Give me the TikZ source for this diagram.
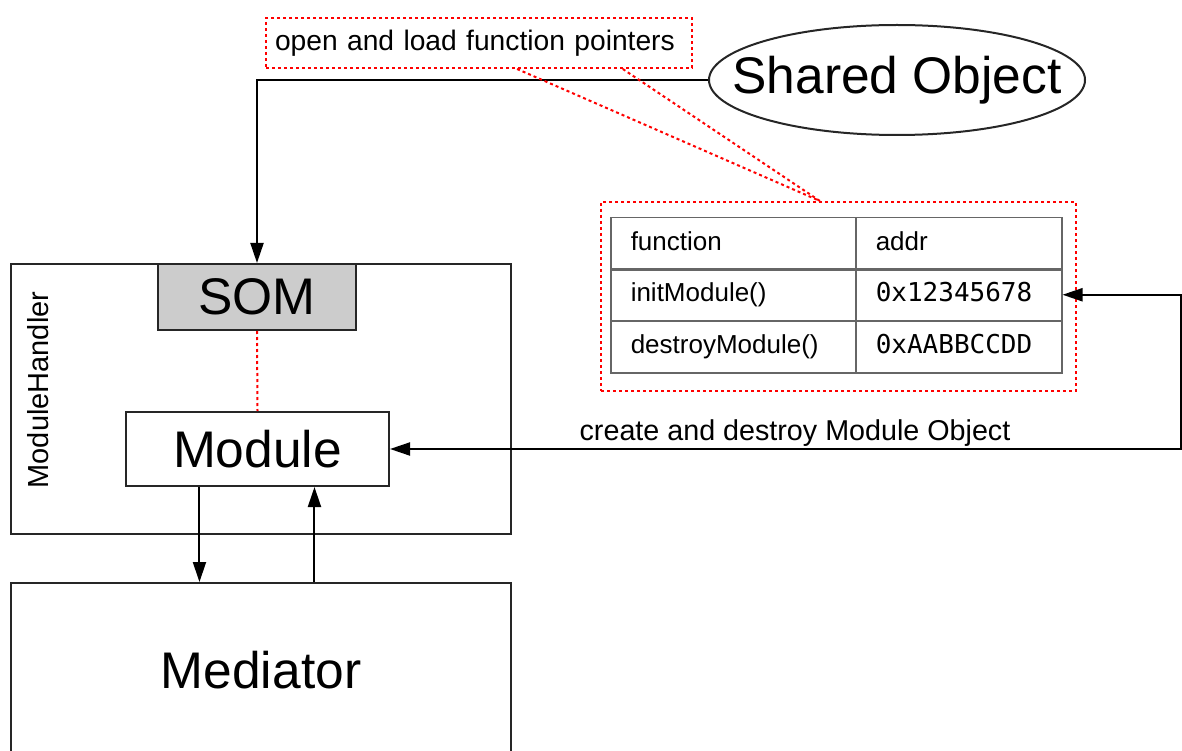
\documentclass[tikz,border=0pt]{standalone}
\usepackage{fontspec}
\setmainfont{Liberation Sans}
\newfontfamily\monofont{DejaVu Sans Mono}
\usetikzlibrary{arrows.meta,calc,shapes.geometric}

\tikzset{
  big/.style={font=\fontsize{51.5}{60}\selectfont},
  small/.style={font=\fontsize{28.7}{34}\selectfont},
  box/.style={draw=black!85, line width=2pt, inner sep=0pt},
  note/.style={draw=red, line width=2pt, dash pattern=on 3pt off 3pt},
  link/.style={red, line width=2pt, dash pattern=on 3pt off 3pt},
  arr/.style={draw=black, line width=2pt, -{Triangle[length=20pt,width=13pt]}},
  arrboth/.style={draw=black, line width=2pt, {Triangle[length=20pt,width=13pt]}-{Triangle[length=20pt,width=13pt]}},
  cell/.style={draw=black!60, line width=1.5pt, minimum height=52pt, inner xsep=20pt, inner ysep=0pt,
    text height=19pt, text depth=6pt, align=left, font=\fontsize{26}{30}\selectfont},
  fncell/.style={cell, text width=205pt},
  adcell/.style={cell, text width=166pt}
}

\begin{document}
\begin{tikzpicture}[x=1pt, y=-1pt]
\useasboundingbox (0,0) rectangle (1182,751);

% shared object and the loader note
\node[ellipse, box, minimum width=376pt, minimum height=110pt, big] (so) at (897,80) {\makebox[0pt]{Shared Object}};
\node[note, minimum height=50pt, inner ysep=0pt, inner xsep=9pt, text width=408pt, align=left,
  font=\fontsize{28.2}{34}\selectfont] (lbl) at (479,43) {open and load function pointers};

% module handler with SOM and Module
\node[box, minimum width=500pt, minimum height=270pt] (mh) at (261,399) {};
\node[font=\fontsize{29}{34}\selectfont, rotate=90] (mhlabel) at (38,390) {ModuleHandler};
\node[box, fill=black!20, minimum width=198pt, minimum height=66pt, big] (som) at (257,297) {SOM};
\node[box, fill=white, minimum width=263pt, minimum height=74pt, big] (mod) at (257.5,449) {Module};

% mediator (runs past the lower edge)
\node[box, minimum width=500pt, minimum height=174pt, big] (med) at (261,670) {Mediator};

% function pointer table
\node[note, minimum width=475pt, minimum height=189pt, inner sep=0pt] (tbl) at (838.5,296.5) {};
\node[fncell, anchor=north west] (f0) at (610,217) {function};
\node[adcell, anchor=north west] (a0) at (855,217) {addr};
\node[fncell, anchor=north west] (f1) at (610,268) {initModule()};
\node[adcell, anchor=north west] (a1) at (855,268) {\monofont 0x12345678};
\node[fncell, anchor=north west] (f2) at (610,320) {destroyModule()};
\node[adcell, anchor=north west] (a2) at (855,320) {\monofont 0xAABBCCDD};

% connectors
\draw[arr] (so.west) -| (som.north);
\draw[link] ($(lbl.south west)!0.589!(lbl.south east)$) -- ($(tbl.north west)!0.461!(tbl.north east)$);
\draw[link] ($(lbl.south west)!0.836!(lbl.south east)$) -- ($(tbl.north west)!0.461!(tbl.north east)$);
\draw[link] (som.south) -- (mod.north);

\coordinate (rt) at (1181,297);
\draw[arrboth] (a1.east) -- (a1.east -| rt) |- (mod.east);
\node[small, anchor=base] (cdlabel) at (795,440) {create and destroy Module Object};

\coordinate (down) at ($(mod.south west)!0.281!(mod.south east)$);
\coordinate (up) at ($(mod.south west)!0.715!(mod.south east)$);
\draw[arr] (down) -- (down |- med.north);
\draw[arr] (up |- med.north) -- (up);
\end{tikzpicture}
\end{document}
